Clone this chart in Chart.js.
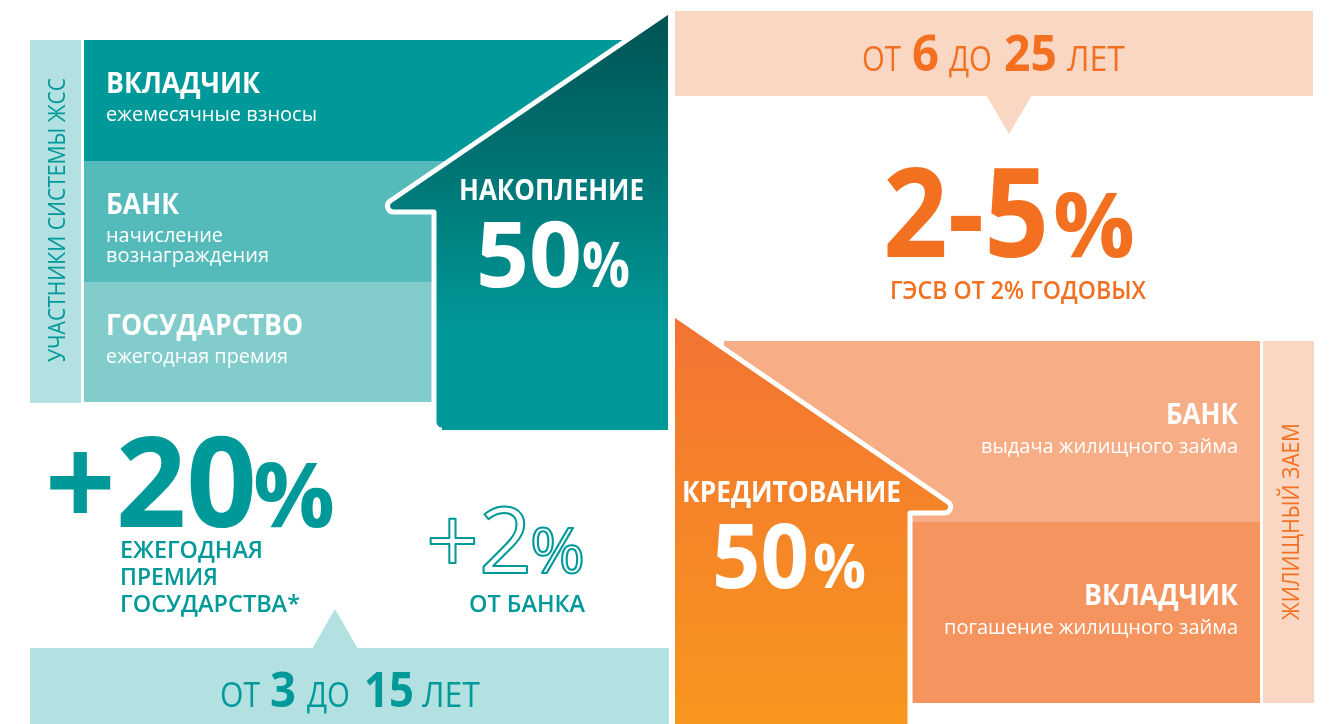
<!DOCTYPE html>
<html>
<head>
<meta charset="utf-8">
<script src="https://cdn.jsdelivr.net/npm/chart.js"></script>
<style>
  body { margin: 0; background: #fff; }
  canvas { display: block; }
</style>
</head>
<body>
<canvas id="myChart" width="1329" height="724"></canvas>
<script>
/* Участники системы ЖСС: накопление */
const participants = ['ВКЛАДЧИК', 'БАНК', 'ГОСУДАРСТВО'];
const participantRoles = [['ежемесячные взносы'], ['начисление', 'вознаграждения'], ['ежегодная премия']];
/* Жилищный заем: кредитование */
const loanParties = ['БАНК', 'ВКЛАДЧИК'];
const loanRoles = ['выдача жилищного займа', 'погашение жилищного займа'];
const phases = ['НАКОПЛЕНИЕ', 'КРЕДИТОВАНИЕ'];
const phaseShare = [50, 50];
const savingYears = [3, 15];
const loanYears = [6, 25];
const loanRate = [2, 5];
const minRate = 2;
const statePremium = 20;
const premiumLabel = ['ЕЖЕГОДНАЯ', 'ПРЕМИЯ', 'ГОСУДАРСТВА*'];
const bankBonus = 2;

const TEAL = '#00999a', ORANGE = '#f37021';
const FONT = '"Open Sans", "Noto Sans", sans-serif';

function txt(ctx, s, x, y, o) {
    ctx.save();
    ctx.font = (o.w || 400) + ' ' + o.size + 'px ' + FONT;
    var mw = ctx.measureText(s).width;
    var sx = o.fit ? o.fit / mw : 1;
    var w = mw * sx;
    var left = o.align === 'right' ? x - w : (o.align === 'center' ? x - w / 2 : x);
    ctx.translate(o.rot ? x : left, y);
    if (o.rot) ctx.rotate(o.rot);
    ctx.scale(sx, 1);
    if (o.outline) {
        ctx.strokeStyle = o.color;
        ctx.lineWidth = 2;
        ctx.lineJoin = 'round';
        ctx.strokeText(s, 0, 0);
    } else {
        ctx.fillStyle = o.color || '#fff';
        ctx.fillText(s, 0, 0);
    }
    ctx.restore();
}

const infographic = {
    id: 'infographic',
    afterDraw(chart) {
        const ctx = chart.ctx;
        const X = v => chart.scales.x.getPixelForValue(v);
        const Y = v => chart.scales.y.getPixelForValue(v);
        function rect(x0, y0, x1, y1, c) {
            ctx.fillStyle = c;
            ctx.fillRect(X(x0), Y(y0), X(x1) - X(x0), Y(y1) - Y(y0));
        }
        ctx.save();

        // ---- левая часть: участники
        rect(30, 40, 81, 403, '#b3e0e0');
        const rowCol = ['#009999', '#55baba', '#82cccc'];
        const rowY = [40, 161, 282, 402];
        participants.forEach((p, i) => {
            rect(84, rowY[i], i === 0 ? 668 : 640, rowY[i + 1], rowCol[i]);
        });
        const titleFit = [154, 73, 197];
        const roleFit = [[211], [117, 163], [182]];
        participants.forEach((p, i) => {
            txt(ctx, p, X(106), Y(rowY[i] + 53), {size: 29, w: 700, fit: titleFit[i]});
            participantRoles[i].forEach((r, j) => {
                txt(ctx, r, X(106), Y(rowY[i] + 81 + j * 20), {size: 20, fit: roleFit[i][j]});
            });
        });
        txt(ctx, 'УЧАСТНИКИ СИСТЕМЫ ЖСС', X(65), Y(362), {size: 24, fit: 284, color: TEAL, rot: -Math.PI / 2});

        // ---- дом "накопление"
        var g = ctx.createLinearGradient(0, Y(12), 0, Y(330));
        g.addColorStop(0, '#005252');
        g.addColorStop(1, '#009898');
        function tealOutline() {
            ctx.moveTo(X(668), Y(12));
            ctx.arcTo(X(374), Y(212), X(434), Y(212), 6);
            ctx.lineTo(X(434), Y(212));
            ctx.arcTo(X(434), Y(430), X(668), Y(430), 8);
        }
        ctx.beginPath();
        tealOutline();
        ctx.lineTo(X(668), Y(430));
        ctx.closePath();
        ctx.fillStyle = g;
        ctx.fill();
        ctx.beginPath();
        tealOutline();
        ctx.strokeStyle = '#fff';
        ctx.lineWidth = 5;
        ctx.lineJoin = 'round';
        ctx.lineCap = 'butt';
        ctx.stroke();
        txt(ctx, phases[0], X(459), Y(200), {size: 28, w: 700, fit: 185});
        txt(ctx, String(phaseShare[0]), X(476), Y(287), {size: 92, w: 700, fit: 106});
        txt(ctx, '%', X(582), Y(287), {size: 62, w: 700, fit: 48});

        // ---- правая верхняя часть: срок и ставка
        rect(675, 11, 1313, 96, '#fad7c3');
        ctx.beginPath();
        ctx.moveTo(X(986), Y(95));
        ctx.lineTo(X(1032), Y(95));
        ctx.lineTo(X(1009), Y(134));
        ctx.closePath();
        ctx.fill();
        txt(ctx, 'ОТ', X(862), Y(71), {size: 34, color: ORANGE, fit: 39});
        txt(ctx, String(loanYears[0]), X(912), Y(71), {size: 50, w: 700, color: ORANGE, fit: 27});
        txt(ctx, 'ДО', X(949), Y(71), {size: 34, color: ORANGE, fit: 43});
        txt(ctx, String(loanYears[1]), X(1004), Y(71), {size: 50, w: 700, color: ORANGE, fit: 53});
        txt(ctx, 'ЛЕТ', X(1067), Y(71), {size: 34, color: ORANGE, fit: 58});
        txt(ctx, loanRate[0] + '-' + loanRate[1], X(883), Y(257), {size: 124, w: 700, color: ORANGE, fit: 166});
        txt(ctx, '%', X(1053), Y(257), {size: 90, w: 700, color: ORANGE, fit: 82});
        txt(ctx, 'ГЭСВ ОТ ' + minRate + '% ГОДОВЫХ', X(890), Y(299), {size: 25, w: 600, color: ORANGE, fit: 256});

        // ---- правая нижняя часть: жилищный заем
        rect(724, 341, 1260, 522, '#f7ae87');
        rect(840, 522, 1260, 703, '#f5945e');
        rect(1263, 341, 1314, 703, '#fad7c3');
        var go = ctx.createLinearGradient(0, Y(315), 0, Y(724));
        go.addColorStop(0, '#f37333');
        go.addColorStop(1, '#f7961d');
        function orangeOutline() {
            ctx.moveTo(X(675), Y(315));
            ctx.arcTo(X(964), Y(513), X(910), Y(513), 6);
            ctx.lineTo(X(910), Y(513));
            ctx.lineTo(X(910), Y(740));
        }
        ctx.beginPath();
        orangeOutline();
        ctx.lineTo(X(675), Y(740));
        ctx.closePath();
        ctx.fillStyle = go;
        ctx.fill();
        ctx.beginPath();
        orangeOutline();
        ctx.strokeStyle = '#fff';
        ctx.lineWidth = 5;
        ctx.stroke();
        const loanTitleY = [424, 605];
        const loanTitleFit = [72, 154];
        const loanRoleFit = [257, 294];
        loanParties.forEach((p, i) => {
            txt(ctx, p, X(1238), Y(loanTitleY[i]), {size: 29, w: 700, align: 'right', fit: loanTitleFit[i]});
            txt(ctx, loanRoles[i], X(1238), Y(loanTitleY[i] + 29), {size: 20, align: 'right', fit: loanRoleFit[i]});
        });
        txt(ctx, 'ЖИЛИЩНЫЙ ЗАЕМ', X(1299), Y(620), {size: 24, fit: 197, color: ORANGE, rot: -Math.PI / 2});
        txt(ctx, phases[1], X(682), Y(502), {size: 28, w: 700, fit: 219});
        txt(ctx, String(phaseShare[1]), X(712), Y(588), {size: 90, w: 700, fit: 97});
        txt(ctx, '%', X(813), Y(588), {size: 60, w: 700, fit: 53});

        // ---- левая нижняя часть: премия и бонус
        txt(ctx, '+' + statePremium, X(45), Y(527), {size: 125, w: 700, color: TEAL, fit: 212});
        txt(ctx, '%', X(253), Y(527), {size: 90, w: 700, color: TEAL, fit: 82});
        premiumLabel.forEach((s, i) => {
            txt(ctx, s, X(120), Y(558 + i * 27), {size: 23, w: 600, color: TEAL, fit: [143, 98, 180][i]});
        });
        txt(ctx, '+' + bankBonus, X(426), Y(573), {size: 92, color: TEAL, outline: true, fit: 106});
        txt(ctx, '%', X(530), Y(573), {size: 63, color: TEAL, outline: true, fit: 55});
        txt(ctx, 'ОТ БАНКА', X(469), Y(612), {size: 24, w: 600, color: TEAL, fit: 116});

        rect(30, 648, 669, 724, '#b3e0e0');
        ctx.beginPath();
        ctx.moveTo(X(312), Y(649));
        ctx.lineTo(X(358), Y(649));
        ctx.lineTo(X(335), Y(609));
        ctx.closePath();
        ctx.fill();
        txt(ctx, 'ОТ', X(220), Y(707), {size: 34, color: TEAL, fit: 40});
        txt(ctx, String(savingYears[0]), X(270), Y(707), {size: 48, w: 700, color: TEAL, fit: 26});
        txt(ctx, 'ДО', X(307), Y(707), {size: 34, color: TEAL, fit: 43});
        txt(ctx, String(savingYears[1]), X(364), Y(707), {size: 48, w: 700, color: TEAL, fit: 50});
        txt(ctx, 'ЛЕТ', X(422), Y(707), {size: 34, color: TEAL, fit: 58});

        ctx.restore();
    }
};

var ctx = document.getElementById('myChart').getContext('2d');
var myChart = new Chart(ctx, {
    type: 'scatter',
    data: { datasets: [] },
    options: {
        responsive: false,
        animation: false,
        layout: { padding: 0 },
        plugins: { legend: { display: false }, tooltip: { enabled: false } },
        scales: {
            x: { type: 'linear', min: 0, max: 1329, display: false },
            y: { type: 'linear', min: 0, max: 724, reverse: true, display: false }
        }
    },
    plugins: [infographic]
});
</script>
</body>
</html>
